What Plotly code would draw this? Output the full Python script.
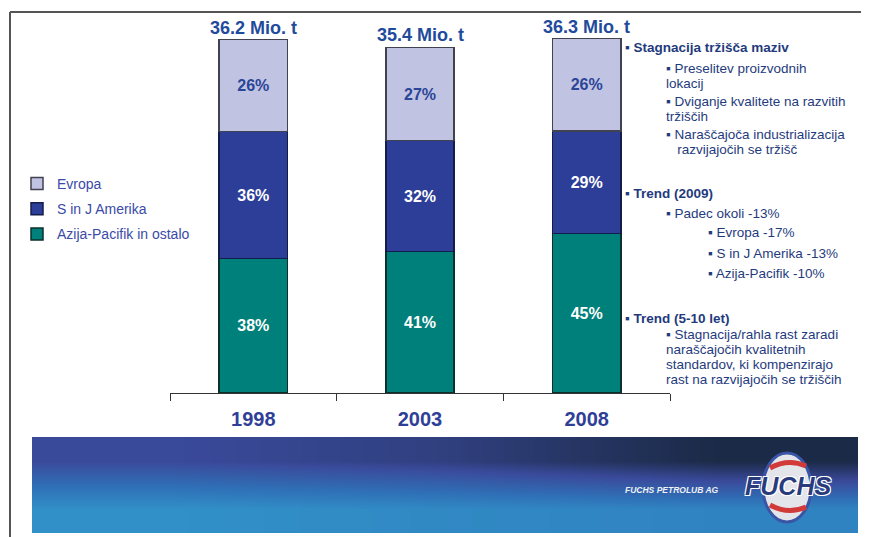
import plotly.graph_objects as go

# ---------------- data ----------------
years = ["1998", "2003", "2008"]
totals = [36.2, 35.4, 36.3]
total_labels = ["36.2 Mio. t", "35.4 Mio. t", "36.3 Mio. t"]
share_evropa = [26, 27, 26]
share_amerika = [36, 32, 29]
share_azija = [38, 41, 45]
series_names = ["Evropa", "S in J Amerika", "Azija-Pacifik in ostalo"]

# (left x, centre y of first line, lines, bold)
note_blocks = [
    (623, 48, ["▪ Stagnacija tržišča maziv"], True),
    (664, 69, ["▪ Preselitev proizvodnih", "lokacij"], False),
    (664, 102, ["▪ Dviganje kvalitete na razvitih", "tržiščih"], False),
    (664, 135, ["▪ Naraščajoča industrializacija", "   razvijajočih se tržišč"], False),
    (623, 193, ["▪ Trend (2009)"], True),
    (664, 213, ["▪ Padec okoli -13%"], False),
    (706, 233, ["▪ Evropa -17%"], False),
    (706, 253, ["▪ S in J Amerika -13%"], False),
    (706, 273, ["▪ Azija-Pacifik -10%"], False),
    (623, 318, ["▪ Trend (5-10 let)"], True),
    (664, 337, ["▪ Stagnacija/rahla rast zaradi", "naraščajočih kvalitetnih",
                "standardov, ki kompenzirajo", "rast na razvijajočih se tržiščih"], False),
]

banner_shade = [[1.0, 0.93, 0.88],
                [0.36, 0.24, 0.0]]

# page geometry (the figure sits 8 px in from the page corner)
OFF = 8
FW, FH = 869 - OFF, 537 - OFF


def fx(x):
    return (x - OFF) / FW


def fy(y):
    return (537 - y) / FH


def seg(shares):
    return [t * s / 100 for t, s in zip(totals, shares)]


fig = go.Figure()

specs = [
    (series_names[2], share_azija, "#00807a", "#0a302d", "white", 3),
    (series_names[1], share_amerika, "#2c3e98", "#141c4a", "white", 2),
    (series_names[0], share_evropa, "#c1c3e3", "#40424f", "#2b4597", 1),
]
for name, shares, color, lc, tc, rank in specs:
    fig.add_trace(go.Bar(
        x=years, y=seg(shares), name=name, customdata=shares,
        texttemplate="<b>%{customdata}%</b>", textposition="inside",
        insidetextanchor="middle", textangle=0,
        textfont=dict(family="Arial", size=16, color=tc),
        marker=dict(color=color, line=dict(color=lc, width=1.5)),
        legendgroup=name, legendrank=rank, width=0.41, hoverinfo="skip",
        xaxis="x", yaxis="y",
    ))

# decorative banner
fig.add_trace(go.Heatmap(
    z=banner_shade, x=[0, 1, 2], y=[0, 1], zsmooth="best",
    colorscale=[[0, "#1b2a46"], [0.36, "#3a4a9b"], [0.7, "#2f70b6"], [1, "#3190c8"]],
    zmin=0, zmax=1, showscale=False, hoverinfo="skip", xaxis="x2", yaxis="y2",
    showlegend=False,
))

annotations = []
for i, (tot, lab) in enumerate(zip(totals, total_labels)):
    annotations.append(dict(
        x=i, y=tot, xref="x", yref="y", text=f"<b>{lab}</b>", showarrow=False,
        xanchor="center", yanchor="bottom", yshift=0,
        font=dict(family="Arial", size=18, color="#1f4b9c"),
    ))

LINE = 15
for x, y, lines, bold in note_blocks:
    n = len(lines)
    y0 = y - (n - 1) * (LINE - 13.3) / 2
    for k, t in enumerate(lines):
        txt = f"<b>{t}</b>" if bold else t
        annotations.append(dict(
            x=fx(x), y=fy(y0 + k * LINE), xref="paper", yref="paper", text=txt,
            showarrow=False, xanchor="left", yanchor="middle",
            font=dict(family="Arial", size=13.5, color="#1f3b7d"),
        ))

annotations.append(dict(
    x=fx(672), y=fy(490), xref="paper", yref="paper", xanchor="center", yanchor="middle",
    text="<b><i>FUCHS PETROLUB AG</i></b>", showarrow=False,
    font=dict(family="Arial", size=8.5, color="#eef1f6"),
))
annotations.append(dict(
    x=fx(788), y=fy(486), xref="paper", yref="paper", xanchor="center", yanchor="middle",
    text="<b><i>FUCHS</i></b>", showarrow=False,
    font=dict(family="Arial", size=25, color="#2a3b7c",
              shadow="1px 1px 0 #fff, -1px -1px 0 #fff, 1px -1px 0 #fff, -1px 1px 0 #fff"),
))


def arc(xa, ya, xc, yc, xb, yb):
    return f"M {fx(xa)},{fy(ya)} Q {fx(xc)},{fy(yc)} {fx(xb)},{fy(yb)}"


shapes = [
    dict(type="line", xref="paper", yref="paper", x0=fx(10), x1=1, y0=fy(12), y1=fy(12),
         line=dict(color="#555555", width=2)),
    dict(type="line", xref="paper", yref="paper", x0=fx(10), x1=fx(10), y0=fy(12), y1=0,
         line=dict(color="#555555", width=2)),
    dict(type="circle", xref="paper", yref="paper", x0=fx(763), x1=fx(811), y0=fy(453), y1=fy(522),
         fillcolor="#e4e5ea", line=dict(color="#3a55a5", width=3), layer="above"),
    dict(type="path", xref="paper", yref="paper", path=arc(770, 468, 788, 458, 806, 466),
         line=dict(color="#d23a3a", width=5), layer="above"),
    dict(type="path", xref="paper", yref="paper", path=arc(770, 505, 788, 515, 806, 507),
         line=dict(color="#d23a3a", width=5), layer="above"),
]

fig.update_layout(
    width=FW, height=FH,
    margin=dict(l=0, r=0, t=0, b=0),
    paper_bgcolor="white", plot_bgcolor="rgba(0,0,0,0)",
    barmode="stack",
    showlegend=True,
    legend=dict(
        x=fx(17), y=fy(168), xanchor="left", yanchor="top",
        traceorder="grouped", tracegroupgap=4,
        font=dict(family="Arial", size=14, color="#3a4aa8"),
        bgcolor="rgba(0,0,0,0)",
    ),
    xaxis=dict(
        domain=[fx(170), fx(670)], range=[-0.5, 2.5], type="category",
        tickson="boundaries", ticks="outside", ticklen=7, tickcolor="#333333",
        showline=True, linecolor="#333333", linewidth=1, showgrid=False,
        tickfont=dict(family="Arial", size=20, color="#2f3f98", weight="bold"),
        ticklabelstandoff=8, fixedrange=True, anchor="y",
    ),
    yaxis=dict(domain=[fy(393), fy(23)], range=[0, 37.9], visible=False,
               fixedrange=True, anchor="x"),
    xaxis2=dict(domain=[fx(32), fx(858)], range=[-0.5, 2.5], visible=False,
                fixedrange=True, anchor="y2"),
    yaxis2=dict(domain=[fy(533), fy(437)], range=[-0.5, 1.5], visible=False,
                fixedrange=True, anchor="x2"),
    annotations=annotations,
    shapes=shapes,
)

fig.write_html("out.html")
